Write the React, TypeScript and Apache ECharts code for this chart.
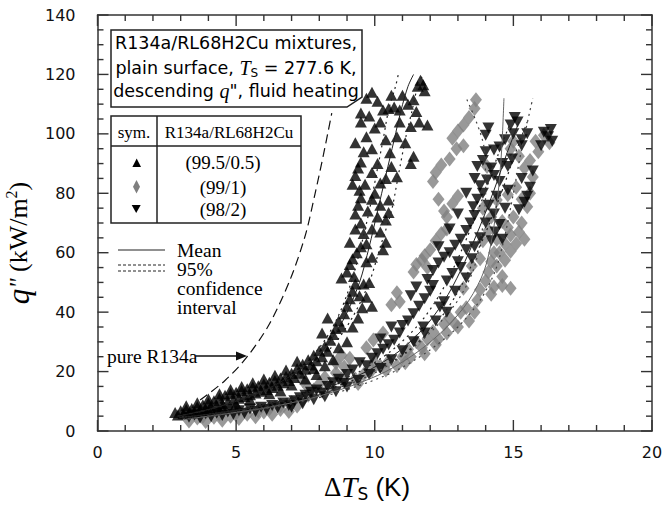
import React, { useEffect, useRef } from 'react';
import * as echarts from 'echarts';

// ---- data ----
// Series: R134a/RL68H2Cu (99.5/0.5) — up triangles
const mix995: [number, number][] = [
  [2.8,6.2],[2.9,5.4],[3.0,6.8],[3.1,5.8],[3.2,7.2],[3.3,6.0],[3.4,7.6],[3.5,6.6],[3.6,8.2],[3.7,7.0],
  [3.8,8.8],[3.9,7.4],[4.0,9.4],[4.1,8.0],[4.2,10.2],[4.3,8.6],[4.4,11.0],[4.5,9.2],[4.6,12.0],[4.7,9.8],
  [4.8,12.6],[4.9,10.4],[5.0,13.0],[5.1,11.0],[5.2,13.6],[5.3,11.6],[5.4,14.2],[5.5,12.2],[5.6,14.8],[5.7,12.8],
  [5.8,15.2],[5.9,13.4],[6.0,15.8],[6.1,14.0],[6.2,16.4],[6.3,14.6],[6.4,17.0],[6.5,15.4],[6.6,17.8],[6.7,16.2],
  [6.8,18.4],[6.9,17.0],[7.0,19.4],[7.1,18.0],[7.2,21.0],[7.3,19.4],[7.4,22.5],[7.5,20.8],[7.6,24.0],[7.7,22.2],
  [7.8,25.5],[7.9,23.6],[8.0,27.0],[8.1,25.0],[8.2,28.5],[8.3,26.8],[8.4,30.5],[8.5,32.5],[8.6,34.5],[8.7,37.0],
  [8.8,35.0],[8.9,39.5],[9.0,42.0],[9.1,44.5],[9.2,47.0],[9.3,49.5],[9.45,45.5],[9.55,41.5],[9.6,49.5],[8.8,51.5],
  [9.0,53.5],[9.1,56.0],[9.2,58.0],[9.7,57.0],[9.9,58.5],[9.8,50.0],[9.1,63.5],[10.3,61.0],[10.4,63.5],[9.6,66.5],
  [9.9,68.0],[10.2,67.0],[10.1,72.0],[10.4,71.0],[10.5,73.5],[9.3,73.0],[9.4,76.0],[9.5,78.5],[9.45,81.0],[10.5,77.7],
  [9.2,83.0],[9.3,86.0],[9.4,88.5],[9.5,90.5],[10.2,83.5],[10.4,85.0],[10.8,85.6],[9.7,99.0],[9.9,95.0],[10.55,93.6],
  [11.1,97.0],[11.3,90.0],[11.4,92.5],[9.5,104.0],[9.5,107.0],[9.7,112.0],[9.9,114.0],[10.3,108.0],[10.5,108.5],[10.7,109.0],
  [10.9,108.0],[11.5,107.5],[11.3,102.5],[11.6,104.0],[11.9,103.0],[11.55,116.0],[11.65,118.0],[11.75,116.5],[11.8,114.5],
  [9.25,52.0],[9.35,60.0],[9.5,62.0],[9.7,63.0],[9.3,68.0],[9.5,70.0],[9.75,74.0],[9.9,78.0],[9.65,83.0],[9.9,87.0],
  [10.1,90.0],[9.6,94.0],[9.3,97.0],[10.0,102.0],[10.2,104.0],[9.8,106.0],[10.1,111.0],[10.6,113.0],[11.0,113.0],[10.4,98.0],
  [10.8,99.0],[10.6,89.0],[10.0,80.0],[10.2,76.0],[9.7,45.0],[9.9,42.0],[9.4,38.0],[9.2,35.0],[9.0,30.0],[8.7,28.0],
  [8.5,24.0],[8.2,22.0],[7.9,19.0],[8.1,33.0],[8.3,38.0],[10.9,104.0],[11.2,110.0],[11.4,111.5],
  [3.2,8.5],[3.6,9.5],[4.0,10.8],[4.4,12.5],[4.8,14.0],[5.2,15.0],[5.6,16.2],[6.0,17.5],[6.4,18.8],[6.8,20.5],
  [7.2,23.5],[6.6,13.5],[6.2,12.5],[5.5,10.5],[5.0,9.0],[4.5,8.0],[4.0,7.0],[7.0,15.5],[7.5,17.5],[7.8,21.0]
];

// Series: R134a/RL68H2Cu (99/1) — grey diamonds
const mix99: [number, number][] = [
  [3.3,3.4],[3.6,4.4],[3.9,3.2],[4.2,4.6],[4.5,3.6],[4.8,5.0],[5.1,4.2],[5.4,5.6],[5.7,4.8],[6.0,6.4],
  [6.3,5.6],[6.6,7.2],[6.9,6.6],[7.2,8.4],[7.4,10.5],[7.6,12.0],[7.8,13.8],[7.4,17.0],[8.0,15.8],[8.2,18.0],
  [8.4,15.0],[8.6,19.5],[8.6,23.0],[8.9,21.5],[9.1,24.5],[9.3,17.5],[9.6,19.0],[9.9,20.5],[10.2,21.8],[9.95,30.6],
  [10.5,23.5],[10.8,22.0],[11.0,25.0],[11.2,27.5],[11.5,30.0],[11.7,28.0],[11.9,31.0],[12.1,33.5],[12.3,31.0],[12.5,36.0],
  [12.7,38.0],[12.9,36.0],[13.1,40.0],[13.3,41.5],[10.6,42.5],[10.8,46.5],[11.5,56.0],[11.7,57.5],[11.9,55.0],[13.7,44.0],
  [13.8,47.5],[14.0,50.5],[14.2,46.0],[14.1,53.5],[14.4,55.5],[14.7,57.5],[14.6,52.0],[14.9,60.5],[15.1,63.0],[15.4,64.5],
  [14.9,48.0],[14.3,60.0],[13.9,64.0],[14.1,67.5],[12.2,64.0],[12.4,66.5],[12.6,68.0],[12.5,74.0],[12.8,76.5],[13.0,79.0],
  [12.2,87.0],[12.4,89.5],[12.7,91.5],[12.8,98.5],[13.0,101.0],[13.2,103.0],[13.6,108.5],[13.65,111.5],[14.4,77.7],[14.8,79.5],
  [15.1,82.0],[15.7,85.5],[15.6,91.0],[15.2,92.5],[14.05,89.0],[14.9,95.0],[15.0,97.5],[15.8,97.5],[16.1,99.5],[16.3,97.0],
  [14.6,70.5],[15.0,72.0],[14.9,66.0],[13.5,55.5],[13.2,48.0],
  [14.3,48.5],[14.6,49.0],[14.2,57.0],[14.5,60.0],[14.7,63.0],[15.2,67.0],[14.4,64.5],[14.8,68.5],[15.3,70.0],[14.2,72.0],
  [13.9,75.0],[15.5,75.5],[15.3,78.0],[15.6,80.0],[15.4,88.5],[15.9,94.0],[12.3,78.0],[12.1,84.0],[12.95,95.0],[13.2,96.0],
  [12.6,72.0],[13.8,58.0],[10.9,43.5],[11.4,53.5],[11.8,59.0],[12.0,61.0],[13.4,105.5],[9.4,16.0],[8.8,17.5],[10.0,23.0],
  [10.4,20.5],[11.1,23.0],[11.3,25.0],[11.8,26.0],[12.2,29.0],[12.6,33.0],[13.0,35.0],[13.4,37.0],[13.6,40.0],[9.7,28.0],
  [7.0,9.5],[6.6,8.6],[6.2,7.6],[5.8,6.8],[5.0,6.0],[4.4,5.6],[3.8,5.0],[7.6,14.6],[8.8,25.5],[10.3,33.0]
];

// Series: R134a/RL68H2Cu (98/2) — down triangles
const mix98: [number, number][] = [
  [3.3,4.6],[3.5,5.4],[3.7,4.4],[3.9,5.8],[4.1,4.8],[4.3,6.0],[4.5,5.2],[4.7,6.4],[4.9,5.6],[5.1,6.8],
  [5.3,6.0],[5.5,7.4],[5.7,6.6],[5.9,8.0],[6.1,7.2],[6.3,8.6],[6.5,7.8],[6.7,9.4],[6.9,8.6],[7.1,10.2],
  [7.3,11.2],[7.5,12.0],[7.7,13.0],[7.9,13.8],[8.1,12.8],[8.3,15.0],[8.5,16.2],[8.7,17.4],[8.9,16.0],[9.0,19.0],
  [9.2,20.5],[9.46,23.0],[9.7,22.0],[9.9,24.5],[10.1,26.0],[10.3,27.5],[10.5,29.0],[10.7,30.5],[10.2,31.0],[10.9,33.0],
  [11.0,35.5],[11.2,37.0],[10.6,35.0],[11.75,35.0],[11.4,39.5],[11.6,42.0],[11.8,44.5],[11.3,45.5],[12.0,47.0],[11.5,48.5],
  [12.35,41.7],[12.5,43.5],[12.6,50.5],[12.8,53.0],[12.1,54.0],[12.3,56.5],[12.5,58.5],[12.7,60.0],[12.9,62.5],[13.1,64.5],
  [13.3,67.5],[13.3,61.0],[13.3,51.5],[13.45,70.0],[13.6,72.5],[13.55,75.5],[13.7,78.0],[13.9,80.0],[13.8,82.5],[14.2,64.0],
  [14.35,67.0],[14.5,69.5],[14.6,64.5],[14.05,84.5],[14.3,86.0],[14.5,84.0],[13.7,89.0],[13.9,91.0],[14.2,88.5],[14.0,99.5],
  [14.1,102.0],[14.3,94.6],[14.5,95.6],[14.8,81.0],[14.8,89.0],[14.95,91.5],[15.2,74.5],[15.4,77.0],[15.5,79.0],[15.7,87.5],
  [14.9,103.0],[15.05,105.5],[15.15,104.0],[15.3,98.0],[15.5,100.0],[16.1,100.5],[16.25,99.0],[16.4,97.5],[14.3,73.0],[14.7,75.0],
  [13.0,57.0],[13.6,62.0],
  [7.0,8.0],[7.4,9.2],[7.8,10.5],[8.2,11.5],[8.6,13.2],[9.0,14.8],[9.4,17.0],[9.8,19.0],[10.2,21.0],[10.6,24.0],
  [11.0,27.0],[11.4,30.0],[11.8,33.0],[12.2,37.0],[12.6,40.0],[12.9,47.0],[13.1,55.0],[13.5,58.0],[13.8,65.0],[14.0,70.0],
  [14.1,76.0],[14.4,79.0],[14.6,90.0],[14.7,98.0],[15.0,100.0],[15.3,96.0],[14.0,94.0],[13.6,85.0],[13.3,80.0],[13.0,73.0],
  [12.7,68.0],[12.3,62.0],[11.9,51.0],[12.1,49.0],[15.6,82.0],[15.3,85.0],[16.0,96.0],[16.35,101.5]
];

// Fitted curves: heat flux levels and superheats (mean, lower / upper 95% CI)
const q995 = [5, 7, 10, 14, 20, 28, 38, 50, 62, 74, 86, 98, 108, 116, 120];
const mean995 = [2.9, 3.9, 5.0, 6.1, 7.2, 8.2, 8.9, 9.45, 9.8, 10.1, 10.4, 10.7, 10.95, 11.2, 11.4];
const low995 = [2.88, 3.87, 4.95, 6.0, 7.05, 8.0, 8.65, 9.15, 9.5, 9.8, 10.05, 10.3, 10.5, 10.75, 10.85];
const high995 = [2.93, 3.95, 5.06, 6.22, 7.37, 8.42, 9.18, 9.8, 10.2, 10.6, 10.85, 11.1, 11.35, 11.55, 11.75];

const q99 = [4, 6, 8, 11, 15, 20, 27, 35, 44, 54, 66, 80, 95, 112];
const mean99 = [3.2, 4.8, 6.2, 7.7, 9.1, 10.4, 11.6, 12.6, 13.4, 13.95, 14.25, 14.45, 14.58, 14.66];
const low99 = [3.1, 4.7, 6.05, 7.5, 8.85, 10.1, 11.25, 12.2, 13.0, 13.55, 13.85, 14.0, 13.95, 13.3];
const high99 = [3.3, 4.9, 6.35, 7.9, 9.35, 10.7, 11.95, 13.0, 13.8, 14.35, 14.7, 15.0, 15.3, 15.7];

const q98 = [4.5, 6, 8, 11, 15, 20, 27, 36, 46, 57, 69, 81, 93, 104];
const mean98 = [3.0, 4.3, 5.6, 7.0, 8.4, 9.7, 10.9, 11.9, 12.65, 13.25, 13.8, 14.3, 14.75, 15.2];
const low98 = [2.95, 4.25, 5.5, 6.85, 8.2, 9.45, 10.6, 11.6, 12.35, 12.95, 13.5, 14.0, 14.45, 14.9];
const high98 = [3.05, 4.35, 5.7, 7.15, 8.6, 9.95, 11.2, 12.2, 12.95, 13.55, 14.1, 14.6, 15.05, 15.5];

// pure R134a reference curve
const qPure = [10.4, 17, 25, 36, 51, 66, 80, 93, 107];
const dtPure = [3.7, 4.6, 5.4, 6.2, 6.95, 7.5, 7.85, 8.15, 8.45];

// axis ticks (major ticks carry labels)
const xTickLabels = ['0', '5', '10', '15', '20'];
const yTickLabels = ['0', '20', '40', '60', '80', '100', '120', '140'];
const xTickValues = [0, 1, 2, 3, 4, 5, 6, 7, 8, 9, 10, 11, 12, 13, 14, 15, 16, 17, 18, 19, 20];
const yTickValues = [0, 5, 10, 15, 20, 25, 30, 35, 40, 45, 50, 55, 60, 65, 70, 75, 80, 85, 90, 95, 100,
  105, 110, 115, 120, 125, 130, 135, 140];
const legendRows = ['(99.5/0.5)', '(99/1)', '(98/2)'];

const pair = (xs: number[], qs: number[]) => xs.map((x, i) => [x, qs[i]]);

const SERIF = 'Liberation Serif';
const SANS = 'DejaVu Sans';
const X_MAX = 20;
const Y_MAX = 140;
const GRID = { left: 97.5, right: 12, top: 15, bottom: 77 };
const PLOT_W = 664 - GRID.left - GRID.right;
const PLOT_H = 508 - GRID.top - GRID.bottom;

export default function App() {
  const ref = useRef<HTMLDivElement>(null);
  useEffect(() => {
    if (!ref.current) return;
    const chart = echarts.init(ref.current, undefined, { renderer: 'svg' });
    const axisColor = '#333';
    const lineOn = { show: true, onZero: false, lineStyle: { color: axisColor, width: 1.5 } };
    const noTick = { axisTick: { show: false }, minorTick: { show: false } };
    const common = { type: 'value', splitLine: { show: false }, minorSplitLine: { show: false } };
    const xRange = { min: 0, max: X_MAX, interval: 5 };
    const yRange = { min: 0, max: Y_MAX, interval: 20 };
    const lineSeries = (data: number[][], color: string, type: any, width = 1, z = 4) => ({
      type: 'line', data, showSymbol: false, symbol: 'none', smooth: 0.3, z, silent: true,
      lineStyle: { color, width, type },
    });
    const dots = [2, 4];
    const scatterBase = { type: 'scatter', silent: true };

    const fgText = (x: number, y: number, text: string, style: any) => ({
      type: 'text', x, y, z: 101, silent: true,
      style: { text, fill: '#000', align: 'center', verticalAlign: 'middle', ...style },
    });

    // linear mapping identical to the grid's value scales (min 0, fixed max)
    const sx = (v: number) => GRID.left + (v / X_MAX) * PLOT_W;
    const sy = (v: number) => GRID.top + PLOT_H - (v / Y_MAX) * PLOT_H;

    const tickEls: any[] = [];
    const tickStyle = { stroke: '#333', lineWidth: 1.4 };
    xTickValues.forEach((v) => {
      const len = v % 5 === 0 ? 11 : 6;
      const x = sx(v);
      tickEls.push({ type: 'line', z: 103, silent: true,
        shape: { x1: x, y1: sy(0), x2: x, y2: sy(0) - len }, style: { ...tickStyle } });
      tickEls.push({ type: 'line', z: 103, silent: true,
        shape: { x1: x, y1: sy(Y_MAX), x2: x, y2: sy(Y_MAX) + len }, style: { ...tickStyle } });
    });
    yTickValues.forEach((v) => {
      const len = v % 20 === 0 ? 11 : 6;
      const y = sy(v);
      tickEls.push({ type: 'line', z: 103, silent: true,
        shape: { x1: sx(0), y1: y, x2: sx(0) + len, y2: y }, style: { ...tickStyle } });
      tickEls.push({ type: 'line', z: 103, silent: true,
        shape: { x1: sx(X_MAX), y1: y, x2: sx(X_MAX) - len, y2: y }, style: { ...tickStyle } });
    });

    const boxEls = [
      { type: 'polygon', z: 100, silent: true,
        shape: { points: [[111, 30], [362, 30], [362, 97], [347, 107], [111, 107]] },
        style: { fill: '#fff', stroke: '#222', lineWidth: 1.5 } },
      fgText(236, 43, 'R134a/RL68H2Cu mixtures,', { fontFamily: SANS, fontSize: 17.5 }),
      fgText(236, 68, 'plain surface, {ti|T}{sb|S} = 277.6 K,', {
        fontFamily: SANS, fontSize: 17.5, lineHeight: 22,
        rich: {
          ti: { fontFamily: SERIF, fontStyle: 'italic', fontSize: 20, lineHeight: 22 },
          sb: { fontFamily: SANS, fontSize: 12, lineHeight: 12, verticalAlign: 'bottom' },
        } }),
      fgText(236, 91, 'descending {qi|q}", fluid heating', {
        fontFamily: SANS, fontSize: 17.5, lineHeight: 22,
        rich: { qi: { fontFamily: SERIF, fontStyle: 'italic', fontSize: 20, lineHeight: 22 } } }),
      { type: 'rect', z: 100, silent: true, shape: { x: 111, y: 116, width: 190, height: 107 },
        style: { fill: '#fff', stroke: '#222', lineWidth: 1.5 } },
      { type: 'line', z: 101, silent: true, shape: { x1: 111, y1: 146, x2: 301, y2: 146 },
        style: { stroke: '#222', lineWidth: 1.5 } },
      { type: 'line', z: 101, silent: true, shape: { x1: 157, y1: 116, x2: 157, y2: 223 },
        style: { stroke: '#222', lineWidth: 1.5 } },
      fgText(134, 132, 'sym.', { fontFamily: SERIF, fontSize: 17 }),
      fgText(229, 132, 'R134a/RL68H2Cu', { fontFamily: SERIF, fontSize: 17 }),
      { type: 'polygon', z: 101, silent: true, shape: { points: [[136.7, 158.5], [141, 167], [132.4, 167]] },
        style: { fill: '#000' } },
      { type: 'polygon', z: 101, silent: true, shape: { points: [[136.5, 180], [140, 186.7], [136.5, 193.4], [133, 186.7]] },
        style: { fill: '#7f7f7f' } },
      { type: 'polygon', z: 101, silent: true, shape: { points: [[131.7, 205], [140.7, 205], [136.2, 213]] },
        style: { fill: '#000' } },
      fgText(223, 162, legendRows[0], { fontFamily: SERIF, fontSize: 19 }),
      fgText(223, 187, legendRows[1], { fontFamily: SERIF, fontSize: 19 }),
      fgText(223, 209, legendRows[2], { fontFamily: SERIF, fontSize: 19 }),
      { type: 'line', z: 101, silent: true, shape: { x1: 118, y1: 250, x2: 165, y2: 250 },
        style: { stroke: '#222', lineWidth: 1.2 } },
      { type: 'line', z: 101, silent: true, shape: { x1: 118, y1: 265, x2: 165, y2: 265 },
        style: { stroke: '#222', lineWidth: 1, lineDash: [3, 2] } },
      { type: 'line', z: 101, silent: true, shape: { x1: 118, y1: 271, x2: 165, y2: 271 },
        style: { stroke: '#222', lineWidth: 1, lineDash: [3, 2] } },
      fgText(177, 250, 'Mean', { fontFamily: SERIF, fontSize: 19.5, align: 'left' }),
      fgText(177, 269, '95%', { fontFamily: SERIF, fontSize: 19.5, align: 'left' }),
      fgText(177, 288, 'confidence', { fontFamily: SERIF, fontSize: 19.5, align: 'left' }),
      fgText(177, 307, 'interval', { fontFamily: SERIF, fontSize: 19.5, align: 'left' }),
      fgText(107, 356, 'pure R134a', { fontFamily: SERIF, fontSize: 19.5, align: 'left' }),
      { type: 'line', z: 101, silent: true, shape: { x1: 196, y1: 356, x2: 240, y2: 356 },
        style: { stroke: '#111', lineWidth: 1.3 } },
      { type: 'polygon', z: 101, silent: true, shape: { points: [[247, 356], [236, 351.5], [236, 360.5]] },
        style: { fill: '#111' } },
      fgText(367, 487, '{d|Δ}{t|T}{s|S}{k| (K)}', {
        rich: {
          d: { fontFamily: SERIF, fontSize: 27, lineHeight: 30 },
          t: { fontFamily: SERIF, fontStyle: 'italic', fontSize: 29, lineHeight: 30 },
          s: { fontFamily: SANS, fontSize: 17, lineHeight: 15, verticalAlign: 'bottom' },
          k: { fontFamily: 'Liberation Sans', fontSize: 26, lineHeight: 30 },
        } }),
    ];

    chart.setOption({
      animation: false,
      grid: { ...GRID, containLabel: false, outerBoundsMode: 'none' },
      xAxis: [
        { ...common, ...xRange, position: 'bottom', axisLine: lineOn, ...noTick,
          axisLabel: { show: true, margin: 13, fontFamily: SANS, fontSize: 16, color: '#111',
            formatter: (v: number) => xTickLabels[Math.round(v / 5)] ?? '' } },
        { ...common, ...xRange, position: 'top', axisLine: lineOn, ...noTick, axisLabel: { show: false } },
      ],
      yAxis: [
        { ...common, ...yRange, position: 'left', axisLine: lineOn, ...noTick,
          axisLabel: { show: true, margin: 22, fontFamily: SANS, fontSize: 16, color: '#111',
            formatter: (v: number) => yTickLabels[Math.round(v / 20)] ?? '' },
          name: '{q|q}{p|"} {n|(kW/m}{sp|2}{n|)}', nameLocation: 'middle', nameRotate: 90, nameGap: 47,
          nameTextStyle: { color: '#000', fontFamily: SERIF, fontSize: 25, lineHeight: 30, padding: [0, 40, 0, 0],
            rich: {
              q: { fontFamily: SERIF, fontStyle: 'italic', fontSize: 31, lineHeight: 30 },
              p: { fontFamily: SERIF, fontStyle: 'italic', fontSize: 25, lineHeight: 30 },
              n: { fontFamily: SERIF, fontSize: 26, lineHeight: 30 },
              sp: { fontFamily: SERIF, fontSize: 16, lineHeight: 16, verticalAlign: 'top' },
            } } },
        { ...common, ...yRange, position: 'right', axisLine: lineOn, ...noTick, axisLabel: { show: false } },
      ],
      series: [
        { ...scatterBase, name: '(99/1)', data: mix99, symbol: 'diamond', symbolSize: [12, 15],
          itemStyle: { color: '#7f7f7f' }, z: 2 },
        { ...scatterBase, name: '(98/2)', data: mix98, symbol: 'triangle', symbolRotate: 180, symbolSize: [12, 11],
          itemStyle: { color: '#000' }, z: 2 },
        { ...scatterBase, name: '(99.5/0.5)', data: mix995, symbol: 'triangle', symbolSize: [12, 11],
          itemStyle: { color: '#000' }, z: 2 },
        lineSeries(pair(mean995, q995), '#222', 'solid', 1),
        lineSeries(pair(low995, q995), '#222', dots, 1.2),
        lineSeries(pair(high995, q995), '#222', dots, 1.2),
        lineSeries(pair(mean99, q99), '#666', 'solid', 1),
        lineSeries(pair(low99, q99), '#444', dots, 1.2),
        lineSeries(pair(high99, q99), '#444', dots, 1.2),
        lineSeries(pair(mean98, q98), '#222', 'solid', 1),
        lineSeries(pair(low98, q98), '#222', dots, 1.2),
        lineSeries(pair(high98, q98), '#222', dots, 1.2),
        lineSeries(pair(dtPure, qPure), '#111', [9, 5], 1.2),
      ],
      graphic: { elements: [...boxEls, ...tickEls] },
    });
    return () => chart.dispose();
  }, []);
  return <div ref={ref} style={{ width: 664, height: 508, position: 'absolute', left: 0, top: 0 }} />;
}
